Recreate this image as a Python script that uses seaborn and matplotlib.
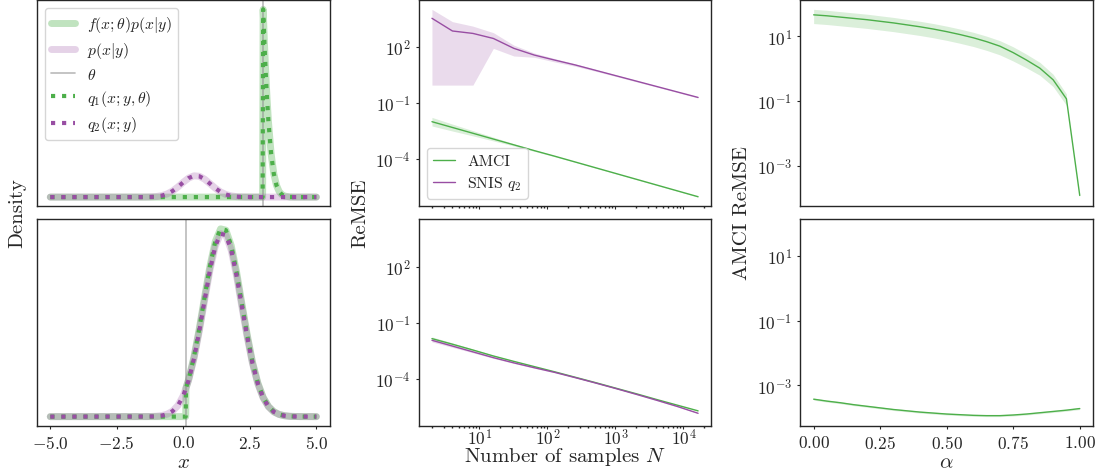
"""
AMCI vs SNIS comparison figure: target densities, ReMSE vs number of samples,
and AMCI ReMSE as a function of alpha.
"""
import numpy as np
import seaborn as sns
import matplotlib.pyplot as plt
from matplotlib.ticker import NullLocator

GREEN = '#4daf4a'
PURPLE = '#984ea3'

# ---- left column: densities (arbitrary units)
top_theta = 3.0
top_p_x = [-5.0, -1.6, -1.4, -1.2, -1.0, -0.8, -0.6, -0.4, -0.2, 0.0, 0.2, 0.4,
           0.6, 0.8, 1.0, 1.2, 1.4, 1.6, 1.8, 2.0, 2.2, 2.4, 2.6, 5.0]
top_p_y = [0.0, 0.0, 0.002, 0.007, 0.020, 0.050, 0.109, 0.208, 0.345, 0.503, 0.643, 0.719,
           0.705, 0.606, 0.456, 0.301, 0.174, 0.088, 0.039, 0.015, 0.005, 0.002, 0.0, 0.0]
top_f_x = [-5.0, 2.98, 3.0, 3.05, 3.1, 3.15, 3.2, 3.3, 3.4, 3.5, 3.6, 3.7, 3.8, 4.0, 4.2, 5.0]
top_f_y = [0.0, 0.0, 6.35, 5.17, 4.14, 3.27, 2.54, 1.46, 0.79, 0.40, 0.19, 0.086, 0.036,
           0.005, 0.0, 0.0]

bot_theta = 0.1
bot_p_x = [-5.0, -1.4, -1.2, -1.0, -0.8, -0.6, -0.4, -0.2, 0.0, 0.2, 0.4, 0.6, 0.8, 1.0,
           1.2, 1.4, 1.6, 1.8, 2.0, 2.2, 2.4, 2.6, 2.8, 3.0, 3.2, 3.4, 3.6, 3.8, 4.0, 4.2,
           4.4, 5.0]
bot_p_y = [0.0, 0.0002, 0.0005, 0.0013, 0.0032, 0.0077, 0.0169, 0.0342, 0.064, 0.111,
           0.177, 0.261, 0.355, 0.447, 0.520, 0.558, 0.554, 0.508, 0.430, 0.336, 0.243,
           0.162, 0.100, 0.057, 0.030, 0.0145, 0.0065, 0.0027, 0.0010, 0.0004, 0.0001, 0.0]
bot_f_x = [-5.0, 0.09, 0.1, 0.2, 0.4, 0.6, 0.8, 1.0, 1.2, 1.4, 1.6, 1.8, 2.0, 2.2, 2.4,
           2.6, 2.8, 3.0, 3.2, 3.4, 3.6, 3.8, 4.0, 4.2, 4.4, 5.0]
bot_f_y = [0.0, 0.0, 0.087, 0.114, 0.182, 0.268, 0.365, 0.459, 0.534, 0.573, 0.569, 0.522,
           0.442, 0.345, 0.250, 0.166, 0.103, 0.059, 0.031, 0.015, 0.0067, 0.0028, 0.0010,
           0.0004, 0.0001, 0.0]

# ---- middle column: ReMSE vs N (log10 values)
n_samples = [2, 4, 8, 16, 32, 64, 128, 256, 512, 1024, 2048, 4096, 8192, 16384]

top_amci = [-2.00, -2.31, -2.62, -2.93, -3.24, -3.55, -3.85, -4.16, -4.47, -4.78,
            -5.09, -5.40, -5.71, -6.02]
top_amci_hi = [-1.77, -2.13, -2.48, -2.83, -3.18, -3.51, -3.82, -4.14, -4.45, -4.76,
               -5.07, -5.38, -5.69, -6.00]
top_amci_lo = [-2.23, -2.50, -2.76, -3.03, -3.30, -3.59, -3.88, -4.18, -4.49, -4.80,
               -5.11, -5.42, -5.73, -6.04]
top_snis = [3.54, 2.86, 2.73, 2.46, 1.93, 1.57, 1.30, 1.04, 0.75, 0.46, 0.17, -0.12,
            -0.41, -0.70]
top_snis_hi = [4.02, 3.36, 3.12, 2.77, 2.10, 1.68, 1.38, 1.10, 0.80, 0.50, 0.21, -0.09,
               -0.38, -0.67]
top_snis_lo = [-0.04, -0.04, -0.04, 1.93, 1.52, 1.45, 1.20, 0.97, 0.70, 0.42, 0.13, -0.15,
               -0.44, -0.73]

bot_amci = [-1.86, -2.16, -2.47, -2.79, -3.08, -3.36, -3.64, -3.93, -4.22, -4.52,
            -4.82, -5.13, -5.43, -5.73]
bot_snis = [-1.95, -2.26, -2.57, -2.88, -3.16, -3.42, -3.67, -3.95, -4.24, -4.54,
            -4.85, -5.17, -5.50, -5.86]
bot_band = [0.09, 0.07, 0.05, 0.04, 0.03, 0.03, 0.02, 0.02, 0.02, 0.02, 0.02, 0.02,
            0.02, 0.02]

# ---- right column: AMCI ReMSE vs alpha (log10 values)
alpha = [0.00, 0.05, 0.10, 0.15, 0.20, 0.25, 0.30, 0.35, 0.40, 0.45, 0.50, 0.55, 0.60,
         0.65, 0.70, 0.75, 0.80, 0.85, 0.90, 0.95, 1.00]
alpha_top = [1.67, 1.64, 1.60, 1.56, 1.52, 1.47, 1.42, 1.36, 1.30, 1.23, 1.15, 1.06,
             0.96, 0.84, 0.70, 0.50, 0.27, 0.02, -0.34, -0.93, -3.92]
alpha_top_hi = [1.84, 1.81, 1.77, 1.73, 1.69, 1.64, 1.59, 1.53, 1.47, 1.40, 1.32, 1.23,
                1.13, 1.01, 0.87, 0.68, 0.45, 0.20, -0.17, -0.78, np.nan]
alpha_top_lo = [1.40, 1.37, 1.33, 1.29, 1.25, 1.20, 1.15, 1.09, 1.03, 0.96, 0.88, 0.79,
                0.69, 0.57, 0.43, 0.24, 0.03, -0.20, -0.55, -1.13, np.nan]
alpha_bot = [-3.43, -3.49, -3.54, -3.60, -3.65, -3.70, -3.75, -3.79, -3.83, -3.86, -3.89,
             -3.91, -3.93, -3.94, -3.94, -3.92, -3.89, -3.85, -3.81, -3.77, -3.72]

sns.set_theme(style='ticks')
plt.rcParams.update({
    'font.family': 'serif',
    'font.serif': ['cmr10', 'DejaVu Serif'],
    'mathtext.fontset': 'cm',
    'axes.formatter.use_mathtext': True,
    'axes.unicode_minus': True,
    'axes.linewidth': 1.0,
    'axes.edgecolor': '0.15',
    'xtick.labelsize': 12.5,
    'ytick.labelsize': 12.5,
    'axes.labelsize': 15,
    'legend.fontsize': 11.3,
    'legend.labelspacing': 0.4,
    'xtick.major.size': 2.5,
    'ytick.major.size': 2.5,
    'xtick.minor.size': 1.5,
    'ytick.minor.size': 1.5,
    'xtick.major.width': 0.8,
    'ytick.major.width': 0.8,
})


def density_panel(ax, theta, f_x, f_y, p_x, p_y):
    kw = dict(ax=ax, estimator=None, sort=False, errorbar=None)
    sns.lineplot(x=f_x, y=f_y, color=GREEN, alpha=0.35, lw=5,
                 label=r'$f(x;\theta)p(x|y)$', **kw)
    sns.lineplot(x=p_x, y=p_y, color=PURPLE, alpha=0.25, lw=5, label=r'$p(x|y)$', **kw)
    ax.axvline(theta, color='0.55', lw=1.2, alpha=0.6, label=r'$\theta$')
    sns.lineplot(x=f_x, y=f_y, color=GREEN, ls=':', lw=3,
                 label=r'$q_1(x;y,\theta)$', **kw)
    sns.lineplot(x=p_x, y=p_y, color=PURPLE, ls=':', lw=3, label=r'$q_2(x;y)$', **kw)
    ax.set_yticks([])
    ax.set_ylabel('')


def log_band(ax, x, lo, hi, color, a):
    ax.fill_between(x, np.power(10.0, lo), np.power(10.0, hi), color=color,
                    alpha=a, lw=0)


def log_line(ax, x, y, color, label=None):
    sns.lineplot(x=x, y=np.power(10.0, y), ax=ax, color=color, lw=1.0,
                 label=label, errorbar=None, estimator=None)


def bottom_label(ax, text, y):
    # place the x label by its baseline, as in the reference
    ax.set_xlabel(text)
    ax.xaxis.label.set_va('baseline')
    ax.xaxis.set_label_coords(0.5, y)


fig, axes = plt.subplots(2, 3, figsize=(10.97, 4.77), dpi=100, sharex='col')
fig.subplots_adjust(left=0.0337, right=0.9964, bottom=0.1048, top=0.998,
                    wspace=0.304, hspace=0.063)
axes[1, 1].sharey(axes[0, 1])
axes[1, 2].sharey(axes[0, 2])

# left column
density_panel(axes[0, 0], top_theta, top_f_x, top_f_y, top_p_x, top_p_y)
density_panel(axes[1, 0], bot_theta, bot_f_x, bot_f_y, bot_p_x, bot_p_y)
axes[0, 0].legend(loc='upper left', handlelength=1.5)
axes[1, 0].get_legend().remove()
axes[0, 0].tick_params(axis='x', length=0)
axes[1, 0].set_xticks([-5.0, -2.5, 0.0, 2.5, 5.0])
bottom_label(axes[1, 0], r'$x$', -0.198)

# middle column
ax = axes[0, 1]
log_band(ax, n_samples, top_amci_lo, top_amci_hi, GREEN, 0.2)
log_band(ax, n_samples, top_snis_lo, top_snis_hi, PURPLE, 0.2)
log_line(ax, n_samples, top_amci, GREEN, 'AMCI')
log_line(ax, n_samples, top_snis, PURPLE, r'SNIS $q_2$')
ax.legend(loc='lower left', handlelength=1.4)

ax = axes[1, 1]
log_band(ax, n_samples, np.subtract(bot_amci, bot_band), np.add(bot_amci, bot_band),
         GREEN, 0.2)
log_band(ax, n_samples, np.subtract(bot_snis, bot_band), np.add(bot_snis, bot_band),
         PURPLE, 0.2)
log_line(ax, n_samples, bot_amci, GREEN)
log_line(ax, n_samples, bot_snis, PURPLE)
ax.set(xscale='log', yscale='log')
ax.tick_params(axis='x', which='major', pad=-1.5)
bottom_label(ax, r'Number of samples $N$', -0.169)
for a in axes[:, 1]:
    a.set_yticks([1e-4, 1e-1, 1e2])
    a.yaxis.set_minor_locator(NullLocator())
    a.set_ylabel('')

# right column
ax = axes[0, 2]
log_band(ax, alpha, alpha_top_lo, alpha_top_hi, GREEN, 0.2)
log_line(ax, alpha, alpha_top, GREEN)
ax.tick_params(axis='x', length=0)

ax = axes[1, 2]
log_band(ax, alpha, np.subtract(alpha_bot, 0.03), np.add(alpha_bot, 0.03), GREEN, 0.2)
log_line(ax, alpha, alpha_bot, GREEN)
ax.set_yscale('log')
ax.set_xticks([0.0, 0.25, 0.5, 0.75, 1.0])
bottom_label(ax, r'$\alpha$', -0.198)
for a in axes[:, 2]:
    a.set_yticks([1e-3, 1e-1, 1e1])
    a.yaxis.set_minor_locator(NullLocator())
    a.set_ylabel('')

for a in axes.flat:
    for side in ['top', 'right', 'bottom', 'left']:
        a.spines[side].set_visible(True)

fig.text(0.016, 0.553, 'Density', rotation=90, ha='center', va='center', fontsize=15)
fig.text(0.328, 0.553, 'ReMSE', rotation=90, ha='center', va='center', fontsize=15)
fig.text(0.676, 0.553, 'AMCI ReMSE', rotation=90, ha='center', va='center', fontsize=15)

fig.savefig('out.png', dpi=100)
